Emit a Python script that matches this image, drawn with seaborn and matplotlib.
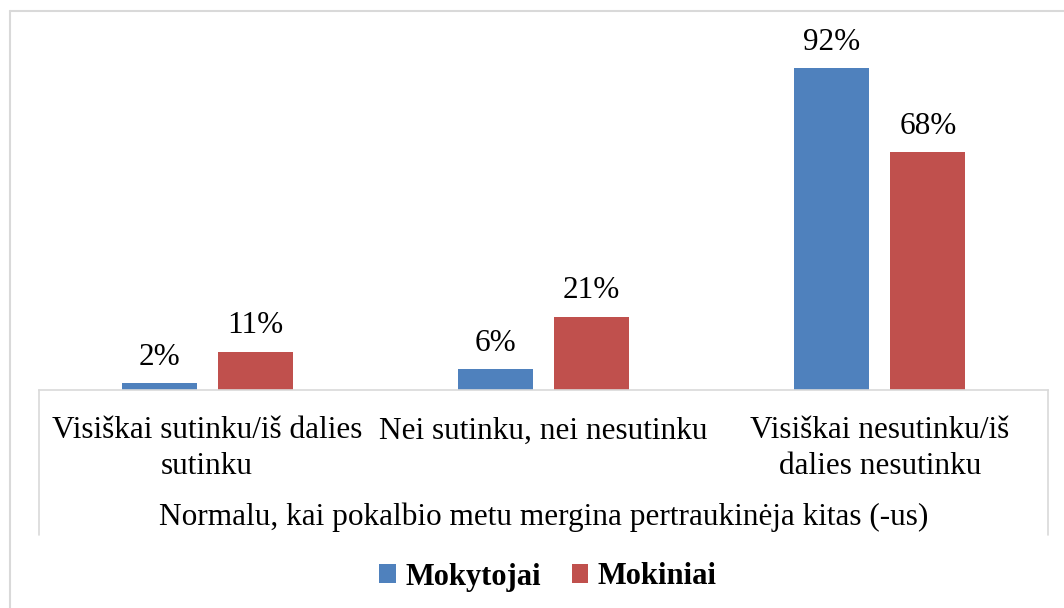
import pandas as pd
import matplotlib.pyplot as plt
import seaborn as sns
from matplotlib.lines import Line2D

# Values (%)
categories = ['Visiškai sutinku/iš dalies\nsutinku',
              'Nei sutinku, nei nesutinku',
              'Visiškai nesutinku/iš\ndalies nesutinku']
groups = ['Mokytojai', 'Mokiniai']
mokytojai = [2, 6, 92]
mokiniai = [11, 21, 68]
colors = ['#4F81BD', '#C0504D']
axis_title = 'Normalu, kai pokalbio metu mergina pertraukinėja kitas (-us)'

df = pd.DataFrame({
    'kategorija': categories * 2,
    'grupe': [groups[0]] * 3 + [groups[1]] * 3,
    'reiksme': mokytojai + mokiniai,
})

sns.set_style('white')
plt.rcParams['font.family'] = ['Liberation Serif', 'DejaVu Serif']
plt.rcParams['text.color'] = 'black'
plt.rcParams['xtick.color'] = 'black'

fs = 22.5

fig = plt.figure(figsize=(10.64, 6.08), dpi=100)
ax = fig.add_axes([39 / 1064, 218 / 608, 1009 / 1064, 350 / 608])

sns.barplot(data=df, x='kategorija', y='reiksme', hue='grupe',
            hue_order=groups, palette=colors, saturation=1,
            width=0.571, gap=0.219, linewidth=0, ax=ax)

ax.set_ylim(0, 100)
ax.set_yticks([])
ax.set_ylabel('')
ax.set_xlabel('')
for side in ['top', 'right', 'left']:
    ax.spines[side].set_visible(False)
ax.spines['bottom'].set_color('#D9D9D9')
ax.spines['bottom'].set_linewidth(1.2)
ax.tick_params(axis='x', length=0, pad=19, labelsize=fs, labelcolor='black')
for lbl in ax.get_xticklabels():
    lbl.set_multialignment('center')
    lbl.set_linespacing(1.3)

for cont in ax.containers:
    ax.bar_label(cont, fmt='%g%%', padding=8, fontsize=fs, color='black')

# category box lines
for xa in [0, 1]:
    ax.add_line(Line2D([xa, xa], [0, -145 / 350], transform=ax.transAxes,
                       color='#D9D9D9', lw=1.2, clip_on=False))

ax.text(0.5, -127 / 350, axis_title, transform=ax.transAxes,
        ha='center', va='center', fontsize=fs, color='black')

# legend
handles, labels = ax.get_legend_handles_labels()
ax.get_legend().remove()
fig.legend(handles, labels, loc='center', bbox_to_anchor=(548 / 1064, 31 / 608),
           ncol=2, frameon=False, prop={'weight': 'bold', 'size': 22},
           handlelength=0.55, handleheight=0.55, handletextpad=0.3,
           columnspacing=1.0)

# outer chart border (top and left visible)
fig.add_artist(Line2D([10 / 1064, 1.0], [1 - 11 / 608, 1 - 11 / 608],
                      transform=fig.transFigure, color='#D9D9D9', lw=1.5))
fig.add_artist(Line2D([10 / 1064, 10 / 1064], [0, 1 - 11 / 608],
                      transform=fig.transFigure, color='#D9D9D9', lw=1.5))

fig.savefig('out.png', dpi=100, facecolor='white')
